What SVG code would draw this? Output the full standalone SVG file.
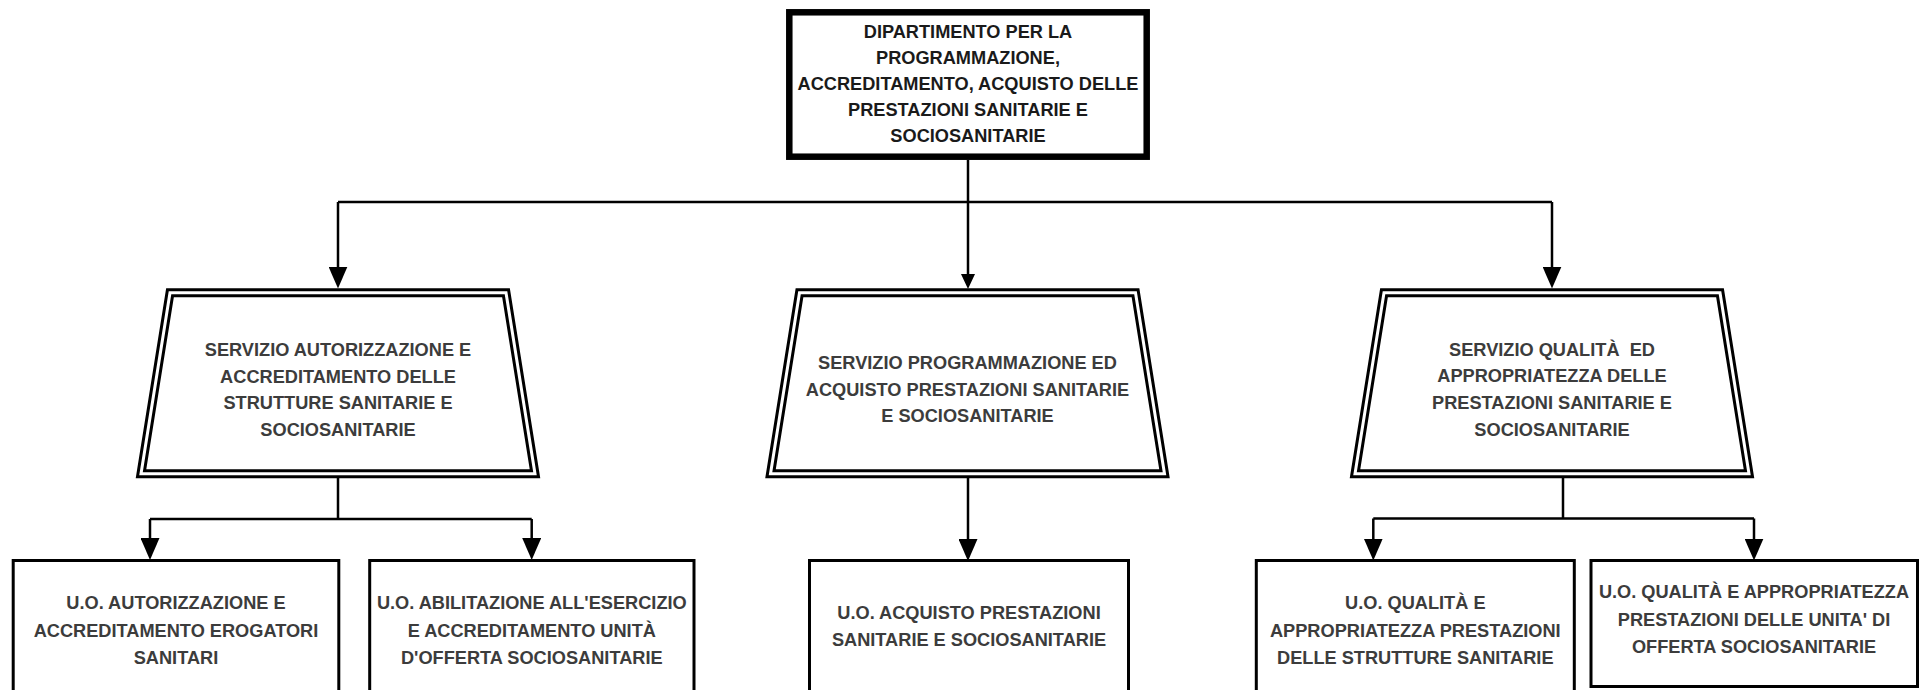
<svg xmlns="http://www.w3.org/2000/svg" width="1919" height="690" viewBox="0 0 1919 690">
<style>
  .bg { fill: #ffffff; }
  .head { fill: #ffffff; stroke: #000000; stroke-width: 6.5; }
  .trap-o { fill: #ffffff; stroke: #000000; stroke-width: 9; stroke-linejoin: miter; }
  .trap-i { fill: none; stroke: #ffffff; stroke-width: 3; stroke-linejoin: miter; }
  .box { fill: #ffffff; stroke: #000000; stroke-width: 3; }
  .conn { fill: none; stroke: #000000; stroke-width: 2.5; }
  text { font-family: "Liberation Sans", Arial, sans-serif; font-weight: bold; font-size: 18.2px; text-anchor: middle; fill: #3c3c3c; }
  .dark { fill: #1a1a1a; }
</style>
<defs>
  <marker id="arrow" markerUnits="userSpaceOnUse" markerWidth="22" markerHeight="19" viewBox="0 0 22 19" refX="17" refY="9.5" orient="auto">
    <path d="M0,0 L22,9.5 L0,19 Z" fill="#000000"/>
  </marker>
  <marker id="arrow-s" markerUnits="userSpaceOnUse" markerWidth="15" markerHeight="14" viewBox="0 0 15 14" refX="11" refY="7" orient="auto">
    <path d="M0,0 L15,7 L0,14 Z" fill="#000000"/>
  </marker>
</defs>
<rect class="bg" x="0" y="0" width="1919" height="690"/>

<g id="connectors">
  <path class="conn" d="M968,160 V285" marker-end="url(#arrow-s)"/>
  <path class="conn" d="M338,202 H1552"/>
  <path class="conn" d="M338,202 V283.5" marker-end="url(#arrow)"/>
  <path class="conn" d="M1552,202 V283.5" marker-end="url(#arrow)"/>
  <path class="conn" d="M338,478 V519 M150,519 H531.7"/>
  <path class="conn" d="M150,519 V555" marker-end="url(#arrow)"/>
  <path class="conn" d="M531.7,519 V555" marker-end="url(#arrow)"/>
  <path class="conn" d="M968,478 V556" marker-end="url(#arrow)"/>
  <path class="conn" d="M1563,478 V518.5 M1373.3,518.5 H1754"/>
  <path class="conn" d="M1373.3,518.5 V555.5" marker-end="url(#arrow)"/>
  <path class="conn" d="M1754,518.5 V555.5" marker-end="url(#arrow)"/>
</g>

<g id="dipartimento">
  <rect class="head" x="789.3" y="12.3" width="357.4" height="144.4"/>
  <text class="dark" x="968" y="37.5">DIPARTIMENTO PER LA</text>
  <text class="dark" x="968" y="63.5">PROGRAMMAZIONE,</text>
  <text class="dark" x="968" y="89.5">ACCREDITAMENTO, ACQUISTO DELLE</text>
  <text class="dark" x="968" y="115.5">PRESTAZIONI SANITARIE E</text>
  <text class="dark" x="968" y="141.5">SOCIOSANITARIE</text>
</g>

<g id="servizio-autorizzazione">
  <polygon class="trap-o" points="170,292.8 506,292.8 535,473.8 141,473.8"/>
  <polygon class="trap-i" points="170,292.8 506,292.8 535,473.8 141,473.8"/>
  <text x="338" y="356">SERVIZIO AUTORIZZAZIONE E</text>
  <text x="338" y="382.7">ACCREDITAMENTO DELLE</text>
  <text x="338" y="409.4">STRUTTURE SANITARIE E</text>
  <text x="338" y="436.1">SOCIOSANITARIE</text>
</g>

<g id="servizio-programmazione">
  <polygon class="trap-o" points="799.5,292.8 1135.5,292.8 1164.5,473.8 770.5,473.8"/>
  <polygon class="trap-i" points="799.5,292.8 1135.5,292.8 1164.5,473.8 770.5,473.8"/>
  <text x="967.5" y="369">SERVIZIO PROGRAMMAZIONE ED</text>
  <text x="967.5" y="395.7">ACQUISTO PRESTAZIONI SANITARIE</text>
  <text x="967.5" y="422.4">E SOCIOSANITARIE</text>
</g>

<g id="servizio-qualita">
  <polygon class="trap-o" points="1384,292.8 1720,292.8 1749,473.8 1355,473.8"/>
  <polygon class="trap-i" points="1384,292.8 1720,292.8 1749,473.8 1355,473.8"/>
  <text x="1552" y="355.5" style="white-space:pre">SERVIZIO QUALITÀ  ED</text>
  <text x="1552" y="382.2">APPROPRIATEZZA DELLE</text>
  <text x="1552" y="408.9">PRESTAZIONI SANITARIE E</text>
  <text x="1552" y="435.6">SOCIOSANITARIE</text>
</g>

<g id="uo-autorizzazione">
  <rect class="box" x="13.2" y="560.5" width="325.6" height="140"/>
  <text x="176" y="609">U.O. AUTORIZZAZIONE E</text>
  <text x="176" y="636.5">ACCREDITAMENTO EROGATORI</text>
  <text x="176" y="664">SANITARI</text>
</g>

<g id="uo-abilitazione">
  <rect class="box" x="369.7" y="560.5" width="324.3" height="140"/>
  <text x="531.8" y="609">U.O. ABILITAZIONE ALL'ESERCIZIO</text>
  <text x="531.8" y="636.5">E ACCREDITAMENTO UNITÀ</text>
  <text x="531.8" y="664">D'OFFERTA SOCIOSANITARIE</text>
</g>

<g id="uo-acquisto">
  <rect class="box" x="809.5" y="560.5" width="319" height="140"/>
  <text x="969" y="618.5">U.O. ACQUISTO PRESTAZIONI</text>
  <text x="969" y="646">SANITARIE E SOCIOSANITARIE</text>
</g>

<g id="uo-qualita-strutture">
  <rect class="box" x="1256.3" y="560.5" width="318" height="140"/>
  <text x="1415.3" y="609">U.O. QUALITÀ E</text>
  <text x="1415.3" y="636.5">APPROPRIATEZZA PRESTAZIONI</text>
  <text x="1415.3" y="664">DELLE STRUTTURE SANITARIE</text>
</g>

<g id="uo-qualita-unita">
  <rect class="box" x="1591" y="560.5" width="326.5" height="126"/>
  <text x="1754" y="598">U.O. QUALITÀ E APPROPRIATEZZA</text>
  <text x="1754" y="625.5">PRESTAZIONI DELLE UNITA' DI</text>
  <text x="1754" y="653">OFFERTA SOCIOSANITARIE</text>
</g>
</svg>
